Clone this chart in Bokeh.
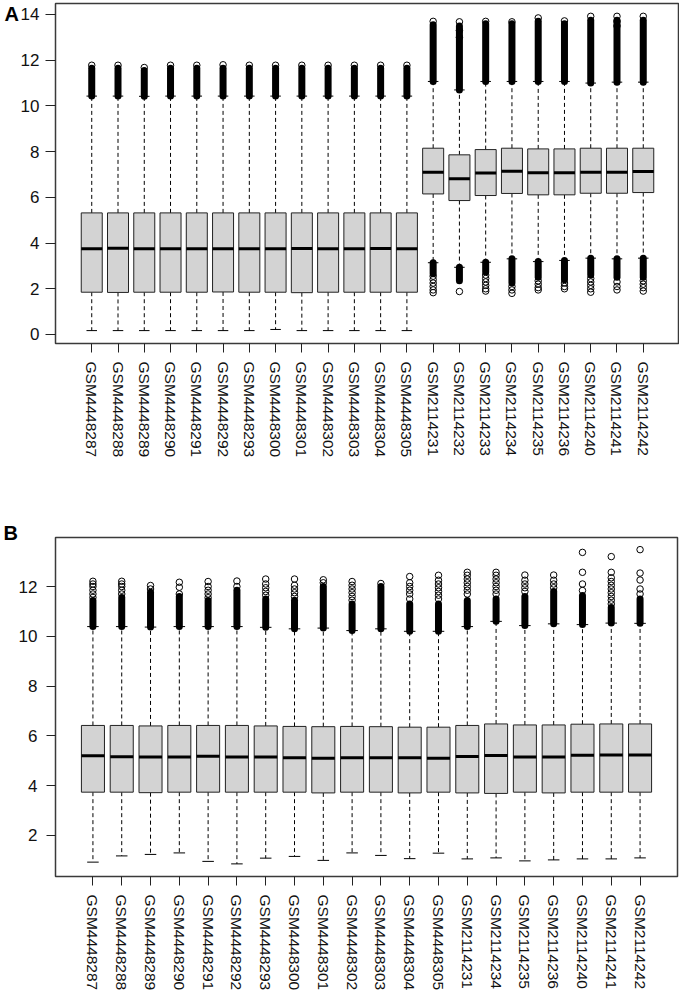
from bokeh.plotting import figure
from bokeh.models import Range1d, FixedTicker
from bokeh.layouts import column
from bokeh.embed import file_html
from bokeh.resources import INLINE

# ---------------- Panel A data ----------------
names_a = ["GSM4448287", "GSM4448288", "GSM4448289", "GSM4448290", "GSM4448291",
           "GSM4448292", "GSM4448293", "GSM4448300", "GSM4448301", "GSM4448302",
           "GSM4448303", "GSM4448304", "GSM4448305", "GSM2114231", "GSM2114232",
           "GSM2114233", "GSM2114234", "GSM2114235", "GSM2114236", "GSM2114240",
           "GSM2114241", "GSM2114242"]
lw_a = [0.17, 0.17, 0.17, 0.17, 0.17, 0.17, 0.17, 0.22, 0.17, 0.17, 0.17, 0.17, 0.17,
        3.14, 2.94, 3.16, 3.31, 3.19, 3.24, 3.34, 3.31, 3.34]
q1_a = [1.85, 1.84, 1.85, 1.85, 1.85, 1.86, 1.85, 1.85, 1.83, 1.85, 1.85, 1.85, 1.85,
        6.15, 5.86, 6.08, 6.17, 6.11, 6.11, 6.18, 6.18, 6.21]
med_a = [3.75, 3.77, 3.75, 3.75, 3.75, 3.75, 3.75, 3.75, 3.76, 3.75, 3.75, 3.76, 3.75,
         7.10, 6.81, 7.06, 7.14, 7.08, 7.08, 7.10, 7.10, 7.13]
q3_a = [5.32, 5.32, 5.32, 5.32, 5.32, 5.32, 5.32, 5.32, 5.32, 5.32, 5.32, 5.32, 5.32,
        8.15, 7.86, 8.09, 8.15, 8.12, 8.12, 8.15, 8.15, 8.15]
uw_a = [10.43, 10.43, 10.42, 10.43, 10.43, 10.43, 10.43, 10.43, 10.43, 10.43, 10.43, 10.43, 10.43,
        11.07, 10.70, 11.07, 11.07, 11.07, 11.07, 11.00, 11.04, 11.04]
up_dense_a = [11.65, 11.65, 11.55, 11.65, 11.65, 11.65, 11.65, 11.65, 11.65, 11.65, 11.65, 11.65, 11.65,
              13.55, 13.5, 13.6, 13.6, 13.7, 13.6, 13.75, 13.75, 13.75]
up_pts_a = [[11.78], [11.78], [11.68], [11.78], [11.78], [11.8], [11.78], [11.78], [11.78],
            [11.78], [11.78], [11.78], [11.78],
            [13.7], [13.0, 13.3, 13.68], [13.7], [13.68], [13.85], [13.72],
            [13.92], [13.5, 13.7, 13.92], [13.92]]
lo_dense_a = [None] * 13 + [2.66, 2.35, 2.73, 2.25, 2.5, 2.4, 2.6, 2.5, 2.5]
lo_pts_a = [[]] * 13 + [[2.55, 2.4, 2.25, 2.1, 1.95, 1.83],
                        [1.88],
                        [2.6, 2.45, 2.3, 2.15, 2.0, 1.9],
                        [2.1, 1.95, 1.8],
                        [2.35, 2.2, 2.05, 1.95],
                        [2.25, 2.1, 2.0],
                        [2.45, 2.3, 2.15, 2.0, 1.85],
                        [2.3, 2.1, 1.95],
                        [2.35, 2.2, 2.05, 1.9]]
ticks_a = [0, 2, 4, 6, 8, 10, 12, 14]

# ---------------- Panel B data ----------------
names_b = ["GSM4448287", "GSM4448288", "GSM4448289", "GSM4448290", "GSM4448291",
           "GSM4448292", "GSM4448293", "GSM4448300", "GSM4448301", "GSM4448302",
           "GSM4448303", "GSM4448304", "GSM4448305", "GSM2114231", "GSM2114234",
           "GSM2114235", "GSM2114236", "GSM2114240", "GSM2114241", "GSM2114242"]
lw_b = [0.93, 1.18, 1.24, 1.30, 0.96, 0.86, 1.09, 1.16, 1.00, 1.30,
        1.20, 1.07, 1.29, 1.06, 1.10, 0.98, 1.02, 1.06, 1.06, 1.10]
q1_b = [3.74, 3.74, 3.72, 3.74, 3.74, 3.74, 3.74, 3.74, 3.71, 3.74,
        3.74, 3.71, 3.74, 3.71, 3.69, 3.74, 3.71, 3.74, 3.74, 3.74]
med_b = [5.20, 5.16, 5.15, 5.15, 5.18, 5.15, 5.15, 5.12, 5.10, 5.12,
         5.12, 5.12, 5.10, 5.17, 5.21, 5.15, 5.15, 5.22, 5.23, 5.23]
q3_b = [6.42, 6.42, 6.40, 6.42, 6.42, 6.42, 6.40, 6.38, 6.37, 6.38,
        6.37, 6.35, 6.35, 6.42, 6.48, 6.44, 6.44, 6.47, 6.48, 6.48]
uw_b = [10.39, 10.39, 10.37, 10.39, 10.39, 10.39, 10.36, 10.30, 10.33, 10.23,
        10.30, 10.20, 10.20, 10.39, 10.60, 10.43, 10.50, 10.47, 10.53, 10.52]
up_dense_b = [11.44, 11.56, 11.77, 11.6, 11.44, 11.85, 11.5, 11.45, 12.0, 11.3,
              12.0, 11.3, 11.3, 11.44, 11.5, 11.6, 11.8, 11.64, 11.16, 11.5]
up_pts_b = [[11.56, 11.7, 11.85, 12.0, 12.1, 12.21],
            [11.7, 11.85, 12.0, 12.1, 12.21],
            [11.9, 12.04],
            [11.7, 11.97, 12.17],
            [11.55, 11.7, 11.85, 12.0, 12.2],
            [12.0, 12.22],
            [11.65, 11.8, 11.95, 12.1, 12.3],
            [11.6, 11.75, 11.9, 12.05, 12.3],
            [12.15, 12.27],
            [11.45, 11.6, 11.75, 11.9, 12.05, 12.2],
            [12.12],
            [11.5, 11.7, 11.85, 12.0, 12.15, 12.4],
            [11.5, 11.65, 11.8, 11.95, 12.1, 12.25, 12.45],
            [11.7, 11.85, 12.0, 12.15, 12.3, 12.45, 12.57],
            [11.7, 11.85, 12.0, 12.15, 12.3, 12.45, 12.57],
            [11.8, 11.95, 12.1, 12.25, 12.46],
            [11.95, 12.1, 12.25, 12.46],
            [11.84, 12.1, 12.57, 13.37],
            [11.3, 11.45, 11.6, 11.75, 11.9, 12.05, 12.2, 12.35, 12.57, 13.2],
            [11.7, 11.9, 12.26, 12.54, 13.48]]
lo_dense_b = [None] * 20
lo_pts_b = [[]] * 20
ticks_b = [2, 4, 6, 8, 10, 12]

FONT = "Liberation Sans"


def make_panel(names, lw, q1, med, q3, uw, upd, upp, lod, lop, ticks,
               xr, yr, fw, fh, bl, bt, bb, letter, standoff, letter_x, ytick, ystand):
    n = len(names)
    xs = list(range(1, n + 1))
    p = figure(frame_width=fw, frame_height=fh, x_range=Range1d(*xr), y_range=Range1d(*yr),
               output_backend="svg", toolbar_location=None,
               min_border_left=bl, min_border_right=2, min_border_top=bt, min_border_bottom=bb)
    p.grid.visible = False
    p.background_fill_color = "white"
    p.border_fill_color = "white"
    p.outline_line_color = "#3a3a3a"
    p.outline_line_width = 1.5

    half = 0.4
    stap = 0.2
    p.segment(x0=xs, y0=q3, x1=xs, y1=uw, line_color="black", line_width=1, line_dash="4 3")
    p.segment(x0=xs, y0=q1, x1=xs, y1=lw, line_color="black", line_width=1, line_dash="4 3")
    p.segment(x0=[x - stap for x in xs], y0=uw, x1=[x + stap for x in xs], y1=uw,
              line_color="black", line_width=1)
    p.segment(x0=[x - stap for x in xs], y0=lw, x1=[x + stap for x in xs], y1=lw,
              line_color="black", line_width=1)
    p.segment(x0=xs, y0=uw, x1=xs, y1=upd, line_color="black", line_width=7, line_cap="round")
    lx = [x for x, d in zip(xs, lod) if d is not None]
    if lx:
        p.segment(x0=lx, y0=[l for l, d in zip(lw, lod) if d is not None], x1=lx,
                  y1=[d for d in lod if d is not None], line_color="black", line_width=7,
                  line_cap="round")
    ox, oy = [], []
    for x, pts in zip(xs, upp):
        ox += [x] * len(pts)
        oy += list(pts)
    for x, pts in zip(xs, lop):
        ox += [x] * len(pts)
        oy += list(pts)
    p.scatter(x=ox, y=oy, marker="circle", size=6.5, line_color="black", fill_color="white",
              fill_alpha=0.0, line_width=1)
    p.quad(left=[x - half for x in xs], right=[x + half for x in xs], bottom=q1, top=q3,
           fill_color="#d3d3d3", line_color="#222222", line_width=1)
    p.segment(x0=[x - half for x in xs], y0=med, x1=[x + half for x in xs], y1=med,
              line_color="black", line_width=3)

    ya = p.yaxis[0]
    ya.ticker = FixedTicker(ticks=ticks)
    ya.axis_line_color = None
    ya.major_tick_in = 0
    ya.major_tick_out = ytick
    ya.major_tick_line_color = "#222222"
    ya.minor_tick_line_color = None
    ya.major_label_standoff = ystand
    ya.major_label_text_font = FONT
    ya.major_label_text_font_size = "17px"
    ya.major_label_text_color = "#111111"

    xa = p.xaxis[0]
    xa.ticker = FixedTicker(ticks=xs)
    xa.major_label_overrides = {x: nm for x, nm in zip(xs, names)}
    xa.major_label_orientation = "vertical"
    xa.axis_line_color = None
    xa.major_tick_in = 0
    xa.major_tick_out = 9
    xa.major_tick_line_color = "#222222"
    xa.minor_tick_line_color = None
    xa.major_label_standoff = 9
    xa.major_label_text_font = FONT
    xa.major_label_text_font_size = "15.5px"
    xa.major_label_text_color = "#111111"

    # panel letter as a left-aligned title pulled into the corner
    p.title.text = letter
    p.title.align = "left"
    p.title.offset = letter_x - bl
    p.title.standoff = standoff
    p.title.text_font = FONT
    p.title.text_font_style = "bold"
    p.title.text_font_size = "20px"
    p.title.text_color = "black"
    return p


pA = make_panel(names_a, lw_a, q1_a, med_a, q3_a, uw_a, up_dense_a, up_pts_a, lo_dense_a, lo_pts_a,
                ticks_a, (-0.38, 23.38), (-0.394, 14.481), 624, 340, 53, 3, 157, "A", -42, 2, 10, 6)
pB = make_panel(names_b, lw_b, q1_b, med_b, q3_b, uw_b, up_dense_b, up_pts_b, lo_dense_b, lo_pts_b,
                ticks_b, (-0.3, 21.3), (0.353, 13.968), 622, 339, 55, 37, 0, "B", -12, 3, 9, 9)

layout = column(pA, pB, spacing=0)
open("out.html", "w").write(file_html(layout, INLINE))
